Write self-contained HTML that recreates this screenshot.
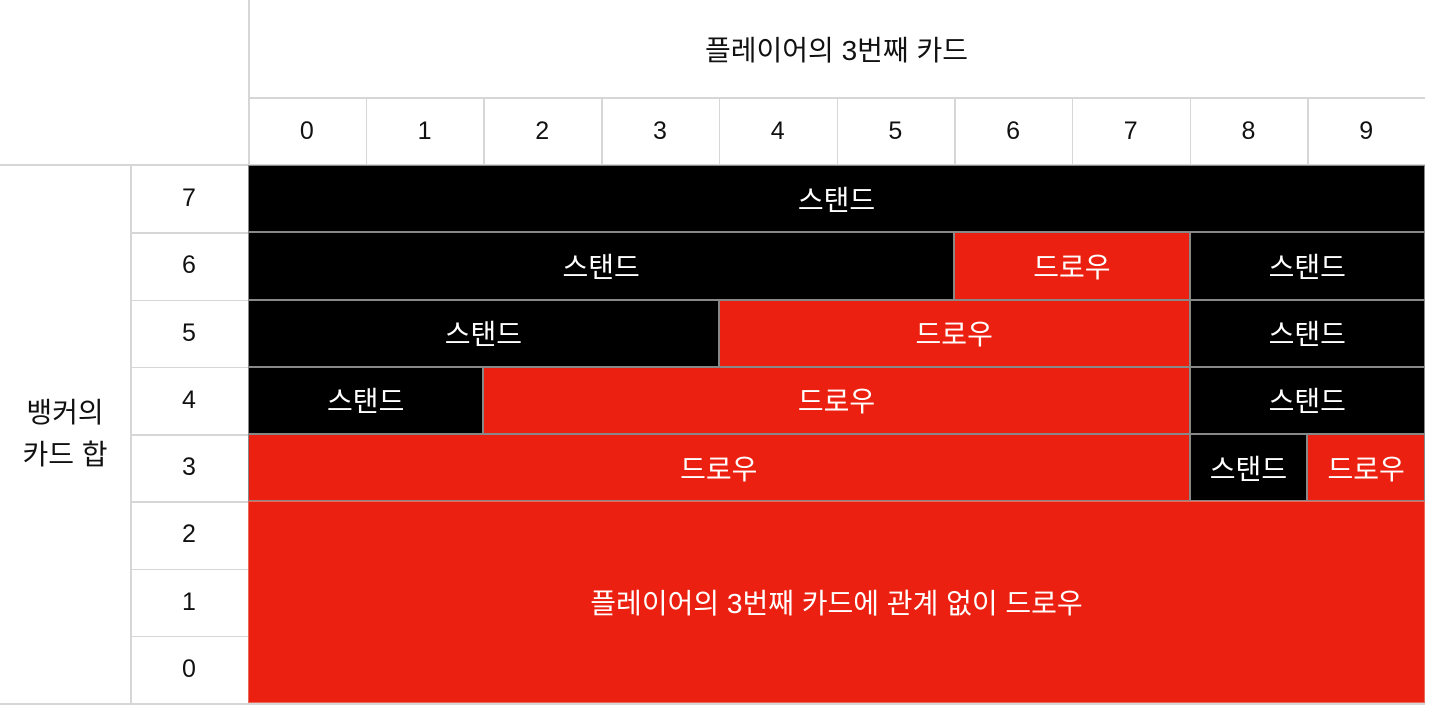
<!DOCTYPE html>
<html><head><meta charset="utf-8">
<style>
body{margin:0;width:1440px;height:712px;background:#fff;overflow:hidden;font-family:"Liberation Sans","Noto Sans CJK KR",sans-serif;position:relative}
.c{position:absolute;box-sizing:border-box;display:flex;align-items:center;justify-content:center;text-align:center}
.line{position:absolute;background:#d6d6d6}
</style></head><body>
<div id="chart"></div>
<script>
const playerCards=[0,1,2,3,4,5,6,7,8,9];
const bankerTotals=[7,6,5,4,3,2,1,0];
// segments per banker row: [startCol, endColExclusive, action]
const row7=[[0,10,"stand"]];
const row6=[[0,6,"stand"],[6,8,"draw"],[8,10,"stand"]];
const row5=[[0,4,"stand"],[4,8,"draw"],[8,10,"stand"]];
const row4=[[0,2,"stand"],[2,8,"draw"],[8,10,"stand"]];
const row3=[[0,8,"draw"],[8,9,"stand"],[9,10,"draw"]];
const rowLow=[[0,10,"draw"]];
const actionLabels={stand:"스탠드",draw:"드로우"};
const lowLabel="플레이어의 3번째 카드에 관계 없이 드로우";

const X0=248,X1=1425,Y0=165,Y1=703,CW=(X1-X0)/10,RH=(Y1-Y0)/8;
const KF='28px';
const root=document.getElementById('chart');
function colX(c){return X0+c*CW;}
function rowY(r){return Y0+r*RH;}
function add(cls,x,y,w,h,txt,style){
  const d=document.createElement('div');d.className=cls;
  d.style.left=x+'px';d.style.top=y+'px';d.style.width=w+'px';d.style.height=h+'px';
  if(txt!==undefined)d.textContent=txt;
  Object.assign(d.style,style||{});root.appendChild(d);return d;
}
let t=add('c',X0,0,X1-X0,97,"플레이어의 3번째 카드",{fontSize:KF,color:'#111'});


let yl=add('c',0,Y0,130,Y1-Y0,"",{fontSize:KF,color:'#111',lineHeight:'42px'});
yl.innerHTML="뱅커의<br>카드 합";


playerCards.forEach((v,i)=>{
  const d=add('c',colX(i),97,CW,68,String(v),{fontSize:'25px',color:'#111'});
  
  
});
bankerTotals.forEach((v,i)=>{
  const d=add('c',130,rowY(i),118,RH,String(v),{fontSize:'25px',color:'#111'});
  
  
});
add('line',248,0,1.5,Y1);
add('line',130,Y0,1.5,Y1-Y0);
add('line',X0,97,X1-X0,1.5);
add('line',0,Y0-1,X1,1.5);
add('line',0,Y1,X1,1.5);
for(let i=1;i<10;i++)add('line',colX(i),97,1.5,68);
for(let i=1;i<8;i++)add('line',130,rowY(i),118,1.5);
const rows=[row7,row6,row5,row4,row3];
rows.forEach((segs,r)=>{
  segs.forEach(s=>{
    const d=add('c',colX(s[0]),rowY(r),colX(s[1])-colX(s[0]),RH,actionLabels[s[2]],
      {background:s[2]==='stand'?'#000':'#ec2010',color:'#fff',fontSize:KF,border:'0.75px solid #888'});
    
    
  });
});
rowLow.forEach(s=>{
  const d=add('c',colX(s[0]),rowY(5),colX(s[1])-colX(s[0]),RH*3,lowLabel,
    {background:'#ec2010',color:'#fff',fontSize:KF,border:'0.75px solid #e86a5a'});
  
  
});
</script>
</body></html>
